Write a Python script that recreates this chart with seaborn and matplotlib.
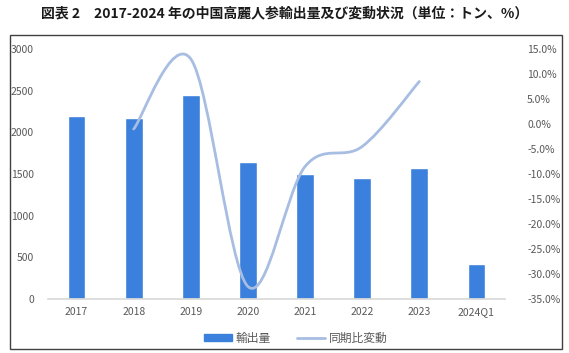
import numpy as np
import pandas as pd
import matplotlib
matplotlib.use("Agg")
import matplotlib.pyplot as plt
import seaborn as sns
from matplotlib.path import Path
from matplotlib.patches import PathPatch, Rectangle
from matplotlib.lines import Line2D
from matplotlib.ticker import FuncFormatter

# data
years = ["2017", "2018", "2019", "2020", "2021", "2022", "2023", "2024Q1"]
export_volume = [2200, 2175, 2450, 1640, 1505, 1450, 1575, 420]
yoy_change = [np.nan, -1.0, 13.0, -32.5, -8.5, -4.5, 8.5, np.nan]

bar_color = "#3A80DC"
line_color = "#A7BDE2"
text_color = "#595959"

sns.set_theme(style="white")
plt.rcParams['font.family'] = ['Noto Sans CJK JP', 'DejaVu Sans']

fig = plt.figure(figsize=(5.69, 3.53), dpi=100)
ax = fig.add_axes([48 / 569, 1 - 299 / 353, (505 - 48) / 569, 250 / 353])

df = pd.DataFrame({"year": years, "volume": export_volume})
sns.barplot(data=df, x="year", y="volume", color=bar_color, width=0.31,
            saturation=1, ax=ax)
ax.set_xlim(-0.5, len(years) - 0.5)
ax.set_ylim(0, 3000)
ax.set_yticks(range(0, 3001, 500))
ax.set_xlabel("")
ax.set_ylabel("")
for s in ["top", "right", "left"]:
    ax.spines[s].set_visible(False)
ax.spines["bottom"].set_color("#D9D9D9")
ax.tick_params(axis="both", colors=text_color, labelsize=7.5, length=0)
ax.tick_params(axis="x", pad=6)
ax.tick_params(axis="y", pad=10)

# secondary axis: smoothed yoy line (Excel-style bezier smoothing)
ax2 = ax.twinx()
ax2.set_ylim(-35, 15)
ax2.set_yticks(range(-35, 16, 5))
ax2.yaxis.set_major_formatter(FuncFormatter(lambda v, p: f"{v:.1f}%"))
for s in ax2.spines.values():
    s.set_visible(False)
ax2.tick_params(axis="y", colors=text_color, labelsize=7.5, length=0, pad=16)

pts = [(i, v) for i, v in enumerate(yoy_change) if not np.isnan(v)]
P = np.array(pts, dtype=float)
verts = [P[0]]
codes = [Path.MOVETO]
n = len(P)
for i in range(n - 1):
    p0 = P[i - 1] if i > 0 else P[i]
    p1, p2 = P[i], P[i + 1]
    p3 = P[i + 2] if i + 2 < n else P[i + 1]
    c1 = p1 + (p2 - p0) / 6
    c2 = p2 - (p3 - p1) / 6
    verts += [c1, c2, p2]
    codes += [Path.CURVE4] * 3
ax2.add_patch(PathPatch(Path(verts, codes), facecolor="none",
                        edgecolor=line_color, lw=2, capstyle="round"))

# title
fig.text(0.5, 1 - 13 / 353, "図表 2　2017-2024 年の中国高麗人参輸出量及び変動状況（単位：トン、%）",
         ha="center", va="center", fontsize=10, fontweight="bold", color="#1a1a1a")

# chart frame
fig.patches.append(Rectangle((10 / 569, 1 - 349 / 353), 552 / 569, 314 / 353,
                             transform=fig.transFigure, fill=False,
                             edgecolor="#404040", lw=1))

handles = [Rectangle((0, 0), 1, 1, color=bar_color),
           Line2D([0], [0], color=line_color, lw=2)]
fig.legend(handles, ["輸出量", "同期比変動"], loc="center",
           bbox_to_anchor=(0.52, 1 - 338 / 353), ncol=2, frameon=False,
           fontsize=8.5, labelcolor=text_color, handlelength=2.4,
           handleheight=0.6, columnspacing=2.2, handletextpad=0.3)

fig.savefig("out.png", dpi=100)
